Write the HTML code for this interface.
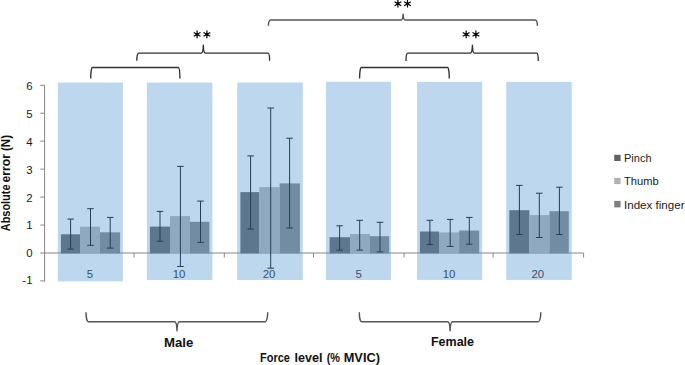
<!DOCTYPE html>
<html><head><meta charset="utf-8"><title>Chart</title>
<style>
html,body{margin:0;padding:0;background:#fff;}
svg{display:block;}
text{font-family:"Liberation Sans",sans-serif;}
</style></head><body>
<svg width="685" height="365" viewBox="0 0 685 365">
<rect x="0" y="0" width="685" height="365" fill="#fff"/>
<g stroke="#868686" stroke-width="1" fill="none">
<line x1="44.6" y1="84.9" x2="44.6" y2="281.55"/>
<line x1="40.3" y1="280.95" x2="44.6" y2="280.95"/>
<line x1="40.3" y1="253" x2="44.6" y2="253"/>
<line x1="40.3" y1="225.05" x2="44.6" y2="225.05"/>
<line x1="40.3" y1="197.1" x2="44.6" y2="197.1"/>
<line x1="40.3" y1="169.15" x2="44.6" y2="169.15"/>
<line x1="40.3" y1="141.2" x2="44.6" y2="141.2"/>
<line x1="40.3" y1="113.25" x2="44.6" y2="113.25"/>
<line x1="40.3" y1="85.3" x2="44.6" y2="85.3"/>
<line x1="44.6" y1="253.0" x2="583.6" y2="253.0"/>
<line x1="134" y1="253.0" x2="134" y2="257.5"/>
<line x1="224.3" y1="253.0" x2="224.3" y2="257.5"/>
<line x1="313.5" y1="253.0" x2="313.5" y2="257.5"/>
<line x1="404.1" y1="253.0" x2="404.1" y2="257.5"/>
<line x1="493.1" y1="253.0" x2="493.1" y2="257.5"/>
<line x1="583.6" y1="253.0" x2="583.6" y2="257.5"/>
</g>
<g font-size="11.4" fill="#1a1a1a" text-anchor="end">
<text x="32.5" y="284.1">-1</text>
<text x="32.5" y="256.7">0</text>
<text x="32.5" y="228.9">1</text>
<text x="32.5" y="201.8">2</text>
<text x="32.5" y="173.9">3</text>
<text x="32.5" y="146.1">4</text>
<text x="32.5" y="118.2">5</text>
<text x="32.5" y="90">6</text>
</g>
<rect x="60.9" y="234.3" width="19.1" height="19.1" fill="#606060"/>
<rect x="80" y="226.7" width="20" height="26.7" fill="#B2B2B2"/>
<rect x="100" y="232.3" width="20.1" height="21.1" fill="#838383"/>
<rect x="149.9" y="226.6" width="20.1" height="26.8" fill="#606060"/>
<rect x="170" y="216.1" width="20" height="37.3" fill="#B2B2B2"/>
<rect x="190" y="221.8" width="19.4" height="31.6" fill="#838383"/>
<rect x="240.4" y="192.1" width="18.9" height="61.3" fill="#606060"/>
<rect x="259.3" y="187.1" width="20.3" height="66.3" fill="#B2B2B2"/>
<rect x="279.6" y="183.4" width="20.3" height="70" fill="#838383"/>
<rect x="329.6" y="237.2" width="20.4" height="16.2" fill="#606060"/>
<rect x="350" y="234" width="20" height="19.4" fill="#B2B2B2"/>
<rect x="370" y="236.2" width="19.2" height="17.2" fill="#838383"/>
<rect x="419.9" y="231.5" width="19.1" height="21.9" fill="#606060"/>
<rect x="439" y="232.5" width="20.1" height="20.9" fill="#B2B2B2"/>
<rect x="459.1" y="230.5" width="20.1" height="22.9" fill="#838383"/>
<rect x="509.3" y="210.2" width="20.1" height="43.2" fill="#606060"/>
<rect x="529.4" y="215.1" width="20.1" height="38.3" fill="#B2B2B2"/>
<rect x="549.5" y="211.2" width="19.3" height="42.2" fill="#838383"/>
<g stroke="#000000" stroke-width="1.0" fill="none">
<path d="M70.6 219.1V249.1M67.3 219.1H73.9M67.3 249.1H73.9"/>
<path d="M90.5 208.7V245.3M87.2 208.7H93.8M87.2 245.3H93.8"/>
<path d="M110.2 217.4V248.1M106.9 217.4H113.5M106.9 248.1H113.5"/>
<path d="M160 211.4V241.2M156.7 211.4H163.3M156.7 241.2H163.3"/>
<path d="M180.4 166.4V266.5M177.1 166.4H183.7M177.1 266.5H183.7"/>
<path d="M200.5 201.1V242.4M197.2 201.1H203.8M197.2 242.4H203.8"/>
<path d="M250.6 155.9V229M247.3 155.9H253.9M247.3 229H253.9"/>
<path d="M270.7 108V268.2M267.4 108H274M267.4 268.2H274"/>
<path d="M289.6 138.2V228M286.3 138.2H292.9M286.3 228H292.9"/>
<path d="M339.6 225.8V250.1M336.3 225.8H342.9M336.3 250.1H342.9"/>
<path d="M359.7 220.3V250.1M356.4 220.3H363M356.4 250.1H363"/>
<path d="M380 222.3V251.9M376.7 222.3H383.3M376.7 251.9H383.3"/>
<path d="M429.9 220.3V244.4M426.6 220.3H433.2M426.6 244.4H433.2"/>
<path d="M450.2 219.4V246.4M446.9 219.4H453.5M446.9 246.4H453.5"/>
<path d="M469.3 217.4V244.2M466 217.4H472.6M466 244.2H472.6"/>
<path d="M519.4 185.4V234.5M516.1 185.4H522.7M516.1 234.5H522.7"/>
<path d="M539.3 193.2V237.5M536 193.2H542.6M536 237.5H542.6"/>
<path d="M559.4 187.2V234.5M556.1 187.2H562.7M556.1 234.5H562.7"/>
</g>
<g font-size="11.4" fill="#1a1a1a" text-anchor="middle">
<text x="89.8" y="277.8">5</text>
<text x="179.1" y="277.8">10</text>
<text x="269" y="277.8">20</text>
<text x="358.7" y="277.8">5</text>
<text x="449" y="277.8">10</text>
<text x="537.8" y="277.8">20</text>
</g>
<g fill="#5B9BD5" fill-opacity="0.4">
<rect x="57.8" y="82.6" width="65.1" height="198.7"/>
<rect x="146.9" y="82.6" width="65.5" height="197.4"/>
<rect x="237.2" y="82.6" width="65.6" height="197.4"/>
<rect x="325.9" y="81.8" width="65" height="198.2"/>
<rect x="417" y="81.9" width="65.2" height="198"/>
<rect x="506.2" y="81.9" width="65.5" height="198"/>
</g>
<g stroke="#303030" stroke-width="1.35" fill="none" stroke-linejoin="round">
<path d="M90.7 78.5A1.7 11 0 0 1 92.4 67.5H178.2A1.7 11 0 0 1 179.9 78.5"/>
<path d="M136.8 60.8A1.7 7.7 0 0 1 138.5 53.1H201.3Q203 53.1 203.3 45.2Q203.6 53.1 205.3 53.1H267.9A1.7 7.7 0 0 1 269.6 60.8"/>
<path d="M359.6 78.4A1.7 10.9 0 0 1 361.3 67.5H447.6A1.7 10.9 0 0 1 449.3 78.4"/>
<path d="M406 61A1.7 7.9 0 0 1 407.7 53.1H470.4Q472.1 53.1 472.4 45.2Q472.7 53.1 474.4 53.1H536.6A1.7 7.9 0 0 1 538.3 61"/>
</g>
<g stroke="#555" stroke-width="1.45" fill="none" stroke-linejoin="round">
<path d="M268.4 25.8A2.4 5.9 0 0 1 270.8 19.9H401.1Q402.8 19.9 403.1 14.2Q403.4 19.9 405.1 19.9H535A2.4 5.9 0 0 1 537.4 25.8"/>
<path d="M86 312.2A2.4 9.5 0 0 0 88.4 321.7H174.6Q176.7 321.7 177 330.7Q177.3 321.7 179.4 321.7H265.3A2.4 9.5 0 0 0 267.7 312.2"/>
<path d="M359.3 312.2A2.4 9.5 0 0 0 361.7 321.7H447.7Q449.8 321.7 450.1 330.7Q450.4 321.7 452.5 321.7H538.4A2.4 9.5 0 0 0 540.8 312.2"/>
</g>
<g stroke="#000" stroke-width="1.2" fill="#000">
<path d="M197.1 30.5L197.1 38.3M193.72 32.45L200.48 36.35M200.48 32.45L193.72 36.35"/><circle cx="197.1" cy="34.4" r="1.4" stroke="none"/>
<path d="M206.9 30.5L206.9 38.3M203.52 32.45L210.28 36.35M210.28 32.45L203.52 36.35"/><circle cx="206.9" cy="34.4" r="1.4" stroke="none"/>
<path d="M397.9 -0.2L397.9 7.6M394.52 1.75L401.28 5.65M401.28 1.75L394.52 5.65"/><circle cx="397.9" cy="3.7" r="1.4" stroke="none"/>
<path d="M407.5 -0.2L407.5 7.6M404.12 1.75L410.88 5.65M410.88 1.75L404.12 5.65"/><circle cx="407.5" cy="3.7" r="1.4" stroke="none"/>
<path d="M466.2 30.5L466.2 38.3M462.82 32.45L469.58 36.35M469.58 32.45L462.82 36.35"/><circle cx="466.2" cy="34.4" r="1.4" stroke="none"/>
<path d="M475.9 30.5L475.9 38.3M472.52 32.45L479.28 36.35M479.28 32.45L472.52 36.35"/><circle cx="475.9" cy="34.4" r="1.4" stroke="none"/>
</g>
<rect x="614.2" y="154.8" width="6.4" height="6.2" fill="#626262"/>
<rect x="614.2" y="178" width="6.4" height="6.1" fill="#B2B2B2"/>
<rect x="614.2" y="200.9" width="6.4" height="6.5" fill="#808080"/>
<g font-size="10.5" fill="#1a1a1a">
<text x="624" y="161.9" textLength="27.5" lengthAdjust="spacingAndGlyphs">Pinch</text>
<text x="624" y="185" textLength="34.7" lengthAdjust="spacingAndGlyphs">Thumb</text>
<text x="624" y="208.5" textLength="60.5" lengthAdjust="spacingAndGlyphs">Index finger</text>
</g>
<g font-weight="bold" fill="#111">
<text x="163.9" y="347.3" font-size="13.3" textLength="29.4" lengthAdjust="spacingAndGlyphs">Male</text>
<text x="431" y="346.1" font-size="13.3" textLength="43" lengthAdjust="spacingAndGlyphs">Female</text>
<g font-size="12.6">
<text x="260" y="361.6" textLength="29.9" lengthAdjust="spacingAndGlyphs">Force</text>
<text x="294.6" y="361.6" textLength="28" lengthAdjust="spacingAndGlyphs">level</text>
<text x="326.7" y="361.6" textLength="13.3" lengthAdjust="spacingAndGlyphs">(%</text>
<text x="343.7" y="361.6" textLength="36.3" lengthAdjust="spacingAndGlyphs">MVIC)</text>
</g>
<text transform="translate(9.9,231.2) rotate(-90)" font-size="12" textLength="46.7" lengthAdjust="spacingAndGlyphs">Absolute</text>
<text transform="translate(9.9,182.4) rotate(-90)" font-size="12" textLength="28.4" lengthAdjust="spacingAndGlyphs">error</text>
<text transform="translate(9.9,151) rotate(-90)" font-size="12" textLength="16.1" lengthAdjust="spacingAndGlyphs">(N)</text>
</g>
</svg>
</body></html>
